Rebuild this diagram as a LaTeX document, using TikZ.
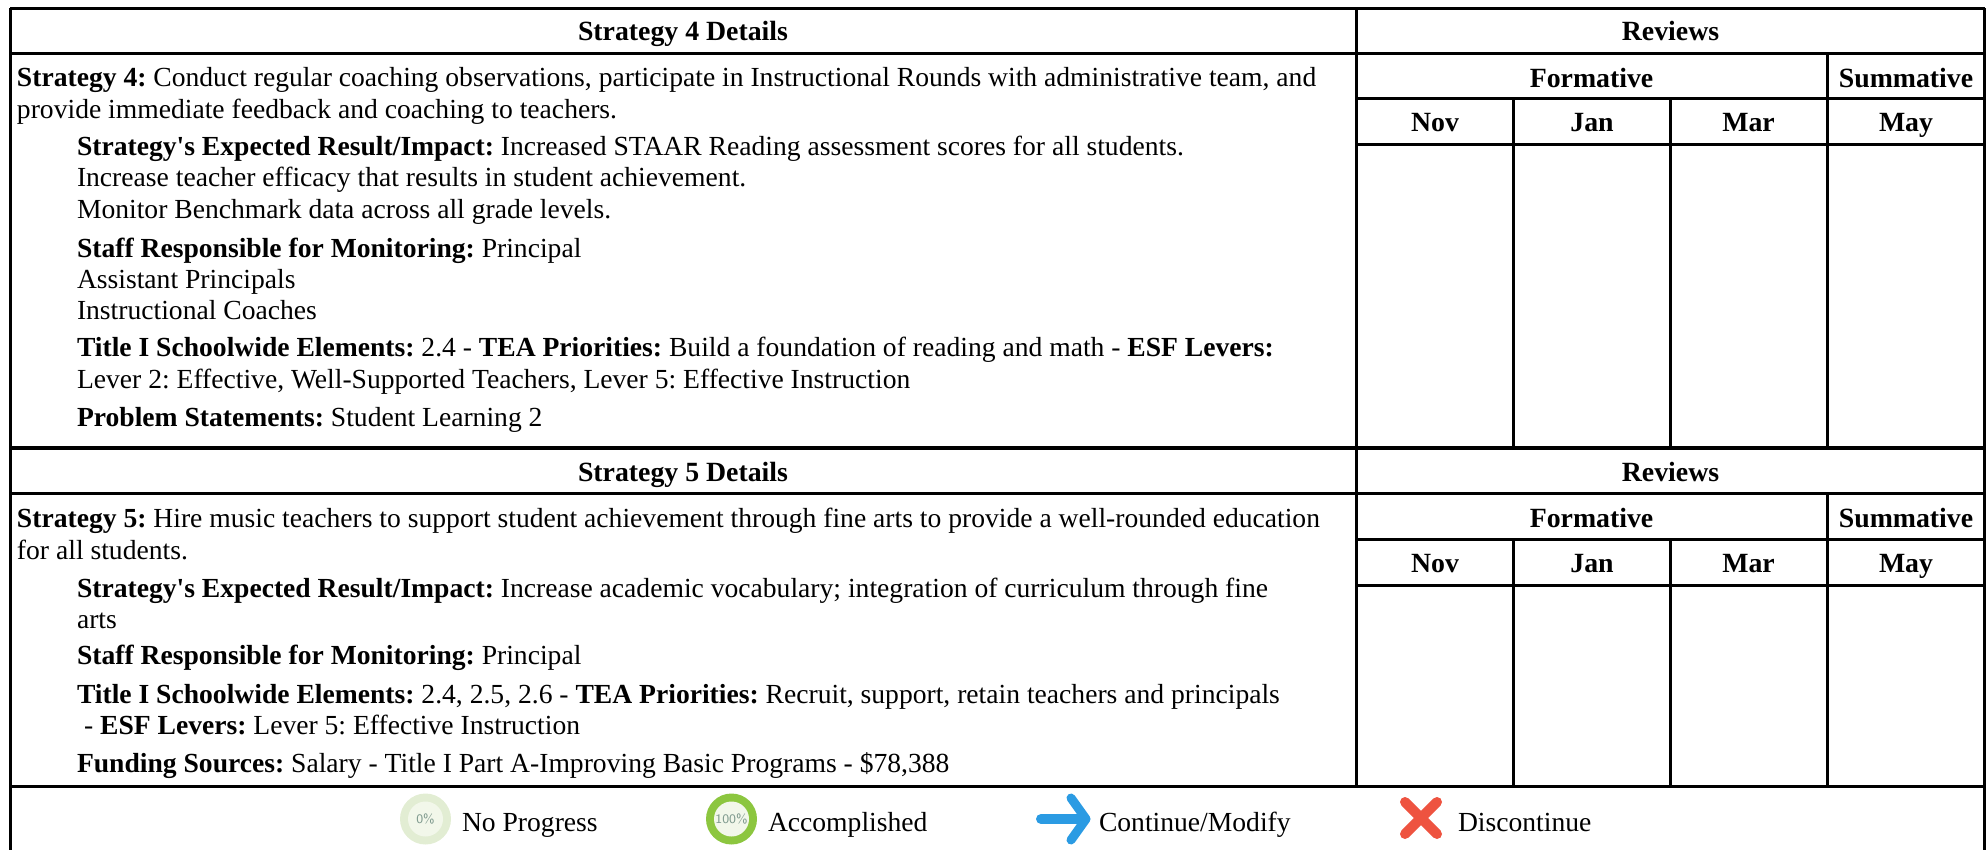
\documentclass[tikz,border=0pt]{standalone}
\usepackage{fontspec}
\setmainfont[Ligatures=TeXOff]{Liberation Serif}
\definecolor{pale}{HTML}{E2EDD3}
\definecolor{paleinner}{HTML}{F2F7EA}
\definecolor{leaf}{HTML}{8CC63F}
\definecolor{skyarrow}{HTML}{2B9BE3}
\definecolor{redx}{HTML}{EE5340}
\definecolor{pct}{HTML}{7F9A8E}
\tikzset{
  x=0.5pt,y=-0.5pt,
  grid/.style={line width=1.5pt,black},
  heavy/.style={line width=2.3pt,black},
  lbl/.style={anchor=base west,inner sep=0pt,outer sep=0pt,font=\fontsize{13.8}{16}\selectfont},
  head/.style={anchor=base,inner sep=0pt,outer sep=0pt,font=\fontsize{13.9}{16}\selectfont\bfseries},
  pctlbl/.style={inner sep=0pt,text=pct,font=\fontsize{6.5}{7}\selectfont\sffamily},
}
\begin{document}
\frenchspacing
\begin{tikzpicture}
\useasboundingbox (0,0) rectangle (1986,850);
% coordinates
\coordinate (tl) at (10,8.5); \coordinate (tr) at (1984.5,8.5);
\coordinate (bl) at (10,850); \coordinate (br) at (1984.5,850);
% horizontals
\draw[grid] (tl) -- (tr);
\draw[grid] (10,53.5) -- (1984.5,53.5);
\draw[grid] (1356.5,99) -- (1984.5,99);
\draw[grid] (1356.5,145) -- (1984.5,145);
\draw[heavy] (10,448) -- (1984.5,448);
\draw[grid] (10,493.5) -- (1984.5,493.5);
\draw[grid] (1356.5,539.5) -- (1984.5,539.5);
\draw[grid] (1356.5,585) -- (1984.5,585);
\draw[grid] (10,786) -- (1984.5,786);
% verticals
\draw[grid] (tl) -- (bl);
\draw[grid] (tr) -- (br);
\draw[grid] (1356.5,8.5) -- (1356.5,786);
\draw[grid] (1513.5,99) -- (1513.5,448) (1513.5,539.5) -- (1513.5,786);
\draw[grid] (1670,99) -- (1670,448) (1670,539.5) -- (1670,786);
\draw[grid] (1827,53.5) -- (1827,448) (1827,493.5) -- (1827,786);
% headers
\node[head] (h4) at (683,41) {Strategy 4 Details};
\node[head] (r4) at (1670.5,41) {Reviews};
\node[head] (f4) at (1591.5,87.5) {Formative};
\node[head] (s4) at (1906,87.5) {Summative};
\node[head] (n4) at (1435,132) {Nov};
\node[head] (j4) at (1592,132) {Jan};
\node[head] (m4) at (1748.5,132) {Mar};
\node[head] (y4) at (1906,132) {May};
\node[head] (h5) at (683,481.5) {Strategy 5 Details};
\node[head] (r5) at (1670.5,481.5) {Reviews};
\node[head] (f5) at (1591.5,527.5) {Formative};
\node[head] (s5) at (1906,527.5) {Summative};
\node[head] (n5) at (1435,572.5) {Nov};
\node[head] (j5) at (1592,572.5) {Jan};
\node[head] (m5) at (1748.5,572.5) {Mar};
\node[head] (y5) at (1906,572.5) {May};
% strategy 4
\node[lbl] (a1) at (17,87) {\textbf{Strategy 4:} Conduct regular coaching observations, participate in Instructional Rounds with administrative team, and};
\node[lbl] (a2) at (17,119) {provide immediate feedback and coaching to teachers.};
\node[lbl] (a3) at (77,156) {\textbf{Strategy's Expected Result/Impact:} Increased STAAR Reading assessment scores for all students.};
\node[lbl] (a4) at (77,187) {Increase teacher efficacy that results in student achievement.};
\node[lbl] (a5) at (77,219) {Monitor Benchmark data across all grade levels.};
\node[lbl] (a6) at (77,257) {\textbf{Staff Responsible for Monitoring:} Principal};
\node[lbl] (a7) at (77,288) {Assistant Principals};
\node[lbl] (a8) at (77,320) {Instructional Coaches};
\node[lbl] (a9) at (77,357) {\textbf{Title I Schoolwide Elements:} 2.4 - \textbf{TEA Priorities:} Build a foundation of reading and math - \textbf{ESF Levers:}};
\node[lbl] (a10) at (77,388) {Lever 2: Effective, Well-Supported Teachers, Lever 5: Effective Instruction};
\node[lbl] (a11) at (77,426) {\textbf{Problem Statements:} Student Learning 2};
% strategy 5
\node[lbl] (b1) at (17,527) {\textbf{Strategy 5:} Hire music teachers to support student achievement through fine arts to provide a well-rounded education};
\node[lbl] (b2) at (17,559) {for all students.};
\node[lbl] (b3) at (77,597) {\textbf{Strategy's Expected Result/Impact:} Increase academic vocabulary; integration of curriculum through fine};
\node[lbl] (b4) at (77,628) {arts};
\node[lbl] (b5) at (77,664) {\textbf{Staff Responsible for Monitoring:} Principal};
\node[lbl] (b6) at (77,703) {\textbf{Title I Schoolwide Elements:} 2.4, 2.5, 2.6 - \textbf{TEA Priorities:} Recruit, support, retain teachers and principals};
\node[lbl] (b7) at (84,734) {- \textbf{ESF Levers:} Lever 5: Effective Instruction};
\node[lbl] (b8) at (77,772) {\textbf{Funding Sources:} Salary - Title I Part A-Improving Basic Programs - \$78,388};
% legend
\fill[pale] (425.5,819) circle[radius=25.5];
\fill[paleinner] (425.5,819) circle[radius=17.5];
\node[pctlbl] (p0) at (425.5,819) {0\%};
\node[lbl] (l0) at (462,831) {No Progress};
\fill[leaf] (731.5,819) circle[radius=25.5];
\fill[paleinner] (731.5,819) circle[radius=17.5];
\node[pctlbl] (p1) at (731.5,819) {100\%};
\node[lbl] (l1) at (768,831) {Accomplished};
\draw[skyarrow,line width=5pt,line cap=round,line join=round] (1041,819) -- (1082,819);
\draw[skyarrow,line width=4.5pt,line cap=round,line join=round] (1071,798) -- (1086,819) -- (1071,840);
\node[lbl] (l2) at (1099,831) {Continue/Modify};
\draw[redx,line width=5pt,line cap=round] (1405,802) -- (1437,834) (1437,802) -- (1405,834);
\node[lbl] (l3) at (1458,831) {Discontinue};
\end{tikzpicture}
\end{document}
